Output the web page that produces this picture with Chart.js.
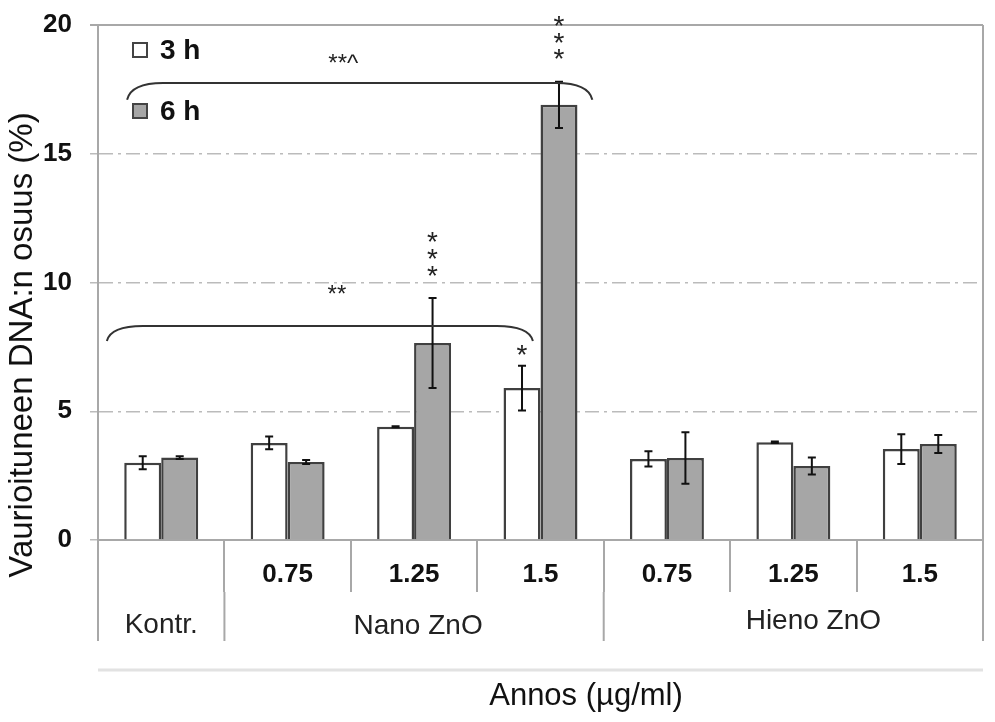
<!DOCTYPE html>
<html>
<head>
<meta charset="utf-8">
<script src="https://cdn.jsdelivr.net/npm/chart.js@4.4.1/dist/chart.umd.min.js"></script>
<style>
  html, body { margin: 0; padding: 0; background: #fff; }
  canvas { display: block; }
</style>
</head>
<body>
<canvas id="chart" width="995" height="722"></canvas>
<script>
// dose labels along the axis, first cell is the control
var doses = ['', '0.75', '1.25', '1.5', '0.75', '1.25', '1.5'];
var groups = [
    { text: 'Kontr.', from: 0, to: 0 },
    { text: 'Nano ZnO', from: 1, to: 3 },
    { text: 'Hieno ZnO', from: 4, to: 6 }
];

// means (%) and error bars
var mean3h = [3.0, 3.77, 4.4, 5.9, 3.15, 3.8, 3.53];
var err3h  = [0.25, 0.25, 0.02, 0.87, 0.3, 0.03, 0.58];
var mean6h = [3.2, 3.03, 7.65, 16.9, 3.18, 2.87, 3.73];
var err6h  = [0.05, 0.08, 1.75, 0.9, 1.0, 0.33, 0.35];

// significance marks: [category, dataset, y value of each star]
var stars = [
    [2, 1, [10.37, 11.03, 11.69]],
    [3, 0, [7.3]],
    [3, 1, [18.8, 19.42, 20.08]]
];
// brackets: x range in category units, y of the bar and its label
var brackets = [
    { x1: -0.27, x2: 3.41, y: 17.75, yEnd: 17.1, label: '**^', labelX: 1.44, labelY: 18.6 },
    { x1: -0.43, x2: 2.94, y: 8.31, yEnd: 7.73, label: '**', labelX: 1.39, labelY: 9.6 }
];

var LINE = '#a8a8a8';
var BAR_EDGE = '#404040';
var GRAY = '#a6a6a6';

var extras = {
    id: 'extras',
    afterDatasetsDraw: function (chart) {
        var ctx = chart.ctx;
        var ys = chart.scales.y;

        // error bars
        var errs = [err3h, err6h];
        ctx.save();
        ctx.strokeStyle = '#111';
        ctx.lineWidth = 2;
        chart.data.datasets.forEach(function (ds, di) {
            var meta = chart.getDatasetMeta(di);
            meta.data.forEach(function (bar, i) {
                var v = ds.data[i], e = errs[di][i];
                var yt = ys.getPixelForValue(v + e), yb = ys.getPixelForValue(v - e);
                ctx.beginPath();
                ctx.moveTo(bar.x, yt); ctx.lineTo(bar.x, yb);
                ctx.moveTo(bar.x - 4, yt); ctx.lineTo(bar.x + 4, yt);
                ctx.moveTo(bar.x - 4, yb); ctx.lineTo(bar.x + 4, yb);
                ctx.stroke();
            });
        });
        ctx.restore();
    },
    afterDraw: function (chart) {
        var ctx = chart.ctx;
        var xs = chart.scales.x, ys = chart.scales.y;
        var area = chart.chartArea;

        ctx.save();
        // frame: top and right edge, and the lower table lines
        ctx.strokeStyle = LINE;
        ctx.lineWidth = 2;
        ctx.beginPath();
        ctx.moveTo(area.left - 8, area.top); ctx.lineTo(area.right, area.top);
        ctx.moveTo(area.right, area.top); ctx.lineTo(area.right, area.bottom);
        ctx.stroke();

        var rowTop = area.bottom + 52, rowBottom = area.bottom + 101;
        ctx.beginPath();
        [-0.5, 0.5, 3.5, 6.5].forEach(function (b) {
            var x = xs.getPixelForValue(b);
            ctx.moveTo(x, rowTop); ctx.lineTo(x, rowBottom);
        });
        ctx.stroke();

        ctx.strokeStyle = '#e2e2e2';
        ctx.lineWidth = 3;
        ctx.beginPath();
        ctx.moveTo(area.left, area.bottom + 130); ctx.lineTo(area.right, area.bottom + 130);
        ctx.stroke();

        // group names
        ctx.fillStyle = '#222';
        ctx.font = '28px "Liberation Sans", Arial, sans-serif';
        ctx.textAlign = 'center';
        ctx.textBaseline = 'middle';
        var nudge = [0, 4, 20];
        var dy = [85, 86, 81];
        groups.forEach(function (g, gi) {
            var x = (xs.getPixelForValue(g.from) + xs.getPixelForValue(g.to)) / 2 + nudge[gi];
            ctx.fillText(g.text, x, area.bottom + dy[gi]);
        });

        // axis titles
        ctx.font = '31px "Liberation Sans", Arial, sans-serif';
        ctx.fillStyle = '#111';
        ctx.fillText('Annos (\u00b5g/ml)', 586, 696);
        ctx.save();
        ctx.translate(23, 345);
        ctx.rotate(-Math.PI / 2);
        ctx.font = '33px "Liberation Sans", Arial, sans-serif';
        ctx.fillText('Vaurioituneen DNA:n osuus (%)', 0, 0);
        ctx.restore();

        // legend inside the plot
        var items = [['3 h', '#fff', 50], ['6 h', GRAY, 111]];
        ctx.textAlign = 'left';
        ctx.font = 'bold 28px "Liberation Sans", Arial, sans-serif';
        items.forEach(function (it) {
            ctx.fillStyle = it[1];
            ctx.strokeStyle = '#444';
            ctx.lineWidth = 2;
            ctx.fillRect(133, it[2] - 7, 14, 14);
            ctx.strokeRect(133, it[2] - 7, 14, 14);
            ctx.fillStyle = '#111';
            ctx.fillText(it[0], 160, it[2] + 1);
        });

        // brackets and their labels
        ctx.strokeStyle = '#333';
        ctx.lineWidth = 2;
        ctx.textAlign = 'center';
        brackets.forEach(function (b) {
            var x1 = xs.getPixelForValue(b.x1), x2 = xs.getPixelForValue(b.x2);
            var y = ys.getPixelForValue(b.y), ye = ys.getPixelForValue(b.yEnd);
            var r = 36;
            ctx.beginPath();
            ctx.moveTo(x1, ye);
            ctx.quadraticCurveTo(x1 + 4, y, x1 + r, y);
            ctx.lineTo(x2 - r, y);
            ctx.quadraticCurveTo(x2 - 4, y, x2, ye);
            ctx.stroke();
            ctx.fillStyle = '#222';
            ctx.font = '24px "Liberation Sans", Arial, sans-serif';
            ctx.fillText(b.label, xs.getPixelForValue(b.labelX), ys.getPixelForValue(b.labelY) + 3);
        });

        // stars above bars
        ctx.font = '28px "Liberation Sans", Arial, sans-serif';
        stars.forEach(function (s) {
            var bar = chart.getDatasetMeta(s[1]).data[s[0]];
            s[2].forEach(function (v) {
                ctx.fillText('*', bar.x, ys.getPixelForValue(v) + 4);
            });
        });
        ctx.restore();
    }
};

new Chart(document.getElementById('chart'), {
    type: 'bar',
    data: {
        labels: doses,
        datasets: [
            { label: '3 h', data: mean3h, backgroundColor: '#ffffff', borderColor: BAR_EDGE, borderWidth: 2.5 },
            { label: '6 h', data: mean6h, backgroundColor: GRAY, borderColor: BAR_EDGE, borderWidth: 2.5 }
        ]
    },
    options: {
        responsive: false,
        animation: false,
        events: [],
        layout: { padding: { top: 25, right: 12, left: 0, bottom: 0 } },
        plugins: { legend: { display: false }, tooltip: { enabled: false } },
        datasets: { bar: { categoryPercentage: 0.585, barPercentage: 1.0 } },
        scales: {
            x: {
                grid: { offset: true, drawOnChartArea: false, tickLength: 52, color: LINE, lineWidth: 2 },
                border: { color: LINE, width: 2 },
                ticks: {
                    color: '#111',
                    padding: -33,
                    font: { family: '"Liberation Sans", Arial, sans-serif', size: 26, weight: 'bold' }
                },
                afterFit: function (scale) {
                    scale.height = 182;
                    scale.paddingLeft = 0;
                    scale.paddingRight = 0;
                }
            },
            y: {
                min: 0,
                max: 20,
                ticks: {
                    stepSize: 5,
                    color: '#111',
                    padding: 18,
                    font: { family: '"Liberation Sans", Arial, sans-serif', size: 26, weight: 'bold' }
                },
                grid: { color: '#bbbbbb', lineWidth: 1.5, tickLength: 8 },
                border: { color: LINE, width: 2, dash: [14, 5, 3, 5] },
                afterFit: function (scale) {
                    scale.width = 98;
                    scale.paddingTop = 0;
                    scale.paddingBottom = 0;
                }
            }
        }
    },
    plugins: [extras]
});
</script>
</body>
</html>
